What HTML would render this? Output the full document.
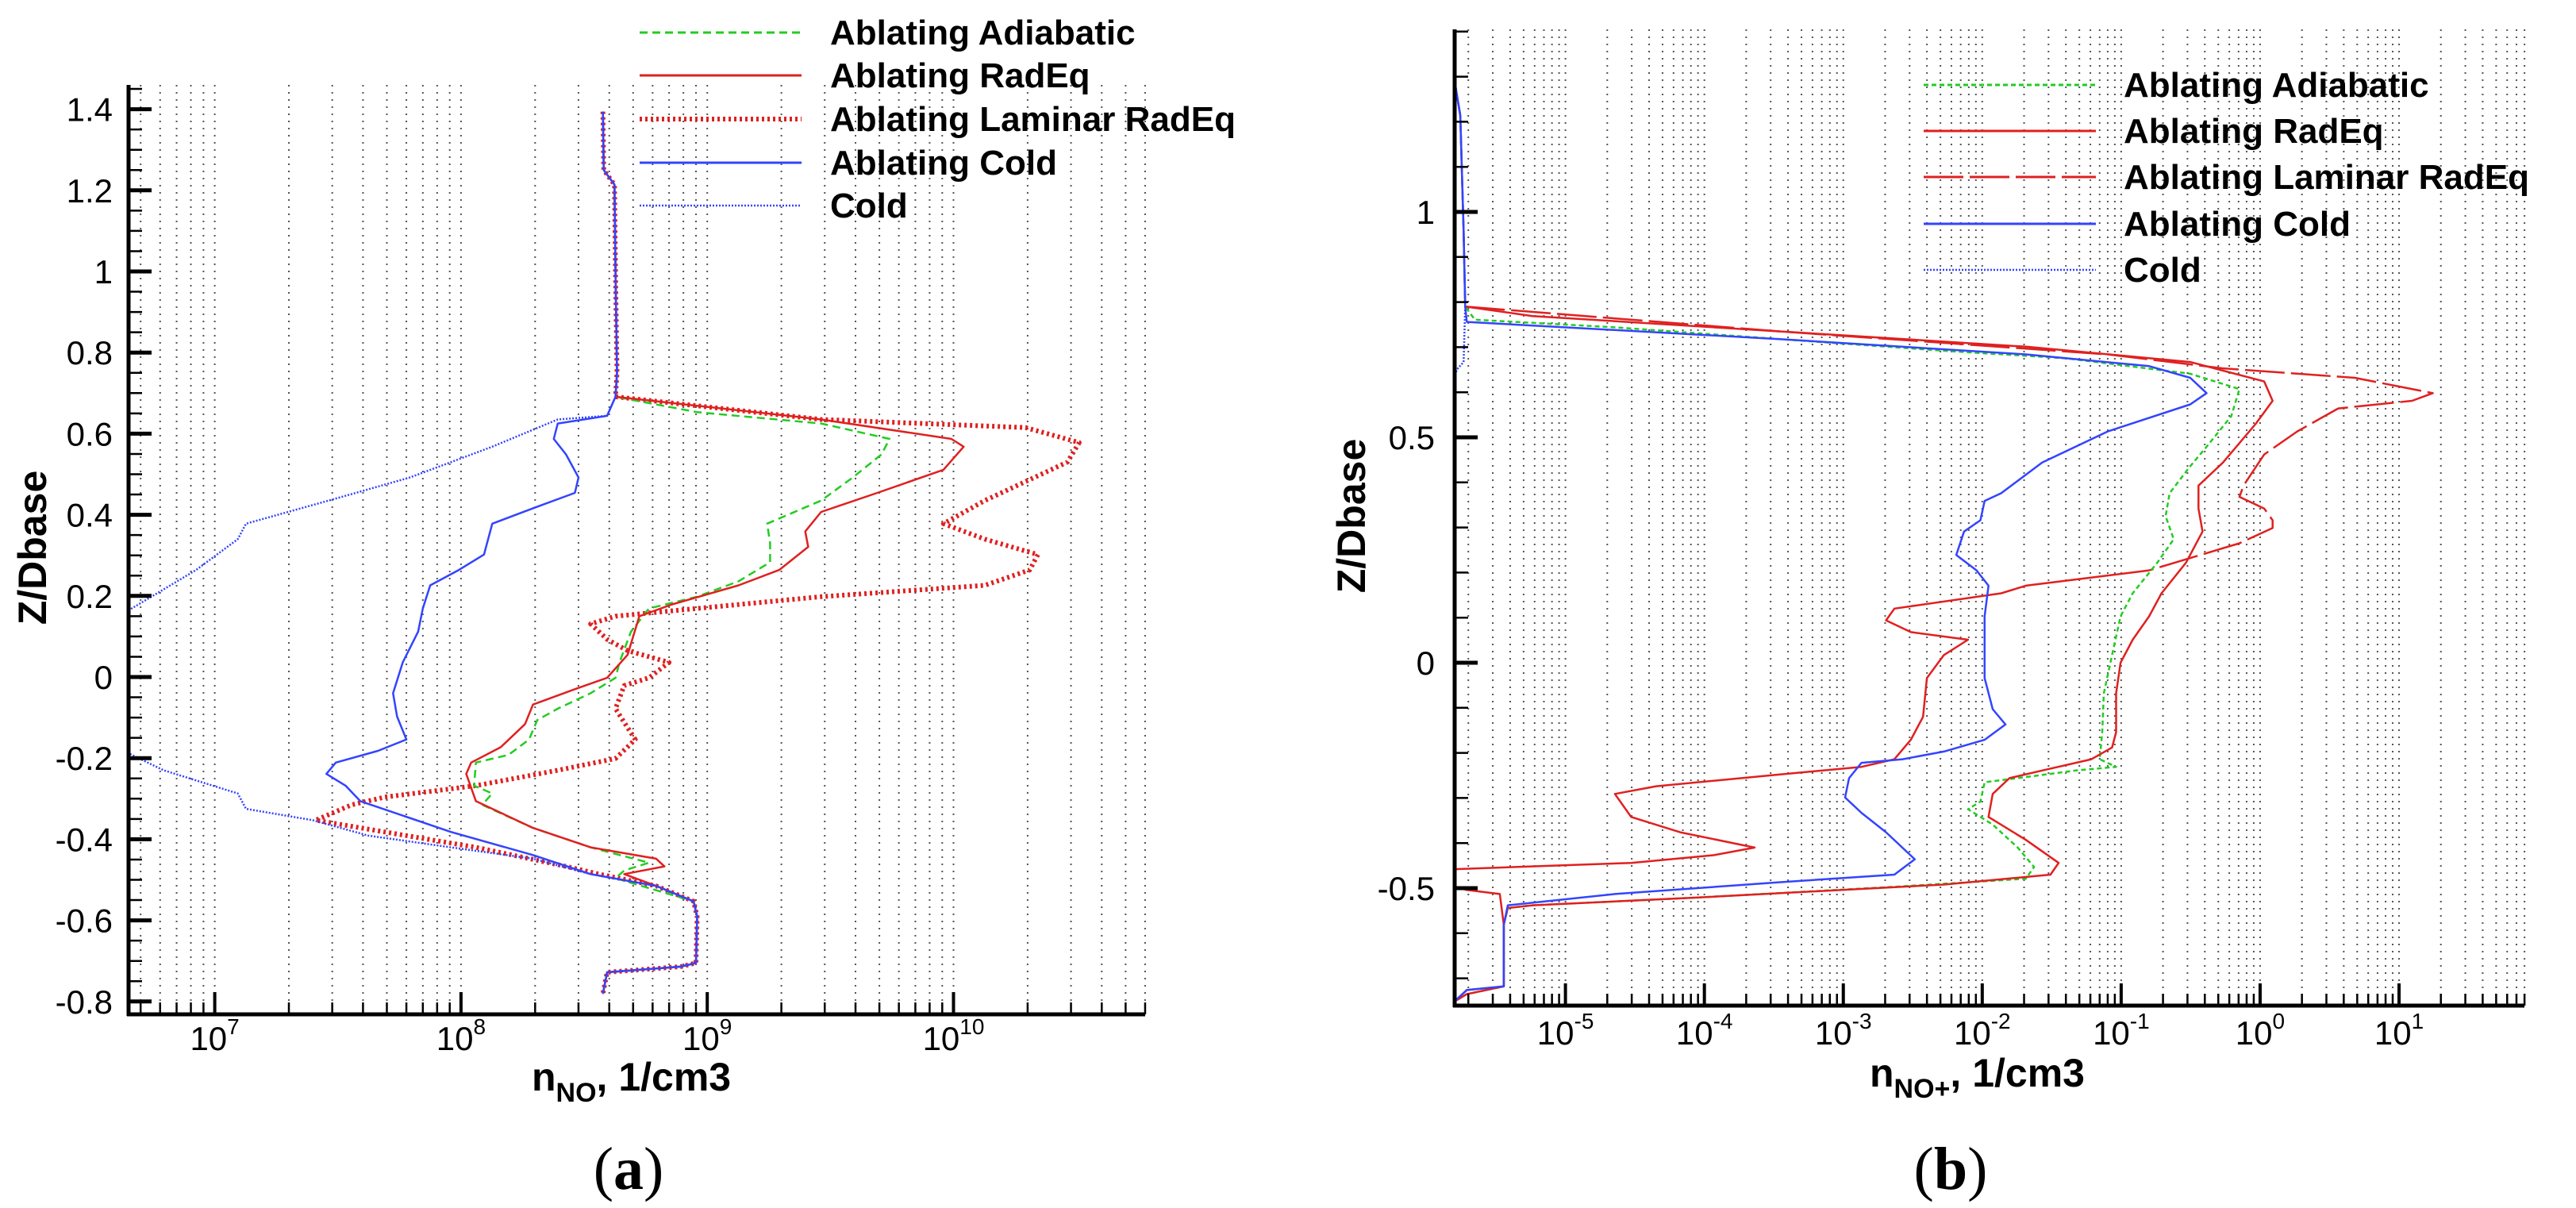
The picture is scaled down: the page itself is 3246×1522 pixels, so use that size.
<!DOCTYPE html>
<html><head><meta charset="utf-8">
<style>
html,body{margin:0;padding:0;background:#fff;}
svg{display:block;}
text{font-family:"Liberation Sans",Arial,sans-serif;}
.tk{font-size:42px;fill:#000;}
.lg{font-size:44px;font-weight:bold;fill:#000;}
.tt{font-size:50px;font-weight:bold;fill:#000;}
.cap{font-family:"Liberation Serif",serif;font-size:76px;fill:#000;}
</style></head>
<body>
<svg id="fig" width="3246" height="1522" viewBox="0 0 3246 1522" xmlns="http://www.w3.org/2000/svg">
<defs>
<clipPath id="clipL"><rect x="162" y="100" width="1282" height="1178"/></clipPath>
<clipPath id="clipR"><rect x="1833" y="30" width="1348" height="1237"/></clipPath>
</defs>
<g id="gridL"></g>
<g id="gridR"></g>
<g id="seriesL" clip-path="url(#clipL)"></g>
<g id="seriesR" clip-path="url(#clipR)"></g>
<g id="axesL"></g>
<g id="axesR"></g>

<g>
 <line x1="806" y1="41" x2="1010" y2="41" stroke="#22cc22" stroke-width="3" stroke-dasharray="10,6"/>
 <text class="lg" x="1046" y="56">Ablating Adiabatic</text>
 <line x1="806" y1="95" x2="1010" y2="95" stroke="#e02020" stroke-width="3"/>
 <text class="lg" x="1046" y="110">Ablating RadEq</text>
 <line x1="806" y1="150" x2="1010" y2="150" stroke="#e02020" stroke-width="6" stroke-dasharray="3,4"/>
 <text class="lg" x="1046" y="165">Ablating Laminar RadEq</text>
 <line x1="806" y1="205" x2="1010" y2="205" stroke="#3344ff" stroke-width="3"/>
 <text class="lg" x="1046" y="220">Ablating Cold</text>
 <line x1="806" y1="259" x2="1010" y2="259" stroke="#3344ff" stroke-width="2.5" stroke-dasharray="2,2"/>
 <text class="lg" x="1046" y="274">Cold</text>
</g>
<g>
 <line x1="2424" y1="107" x2="2641" y2="107" stroke="#22cc22" stroke-width="3" stroke-dasharray="6,4"/>
 <text class="lg" x="2676" y="122">Ablating Adiabatic</text>
 <line x1="2424" y1="165" x2="2641" y2="165" stroke="#e02020" stroke-width="3"/>
 <text class="lg" x="2676" y="180">Ablating RadEq</text>
 <line x1="2424" y1="223" x2="2641" y2="223" stroke="#e02020" stroke-width="3" stroke-dasharray="50,8"/>
 <text class="lg" x="2676" y="238">Ablating Laminar RadEq</text>
 <line x1="2424" y1="282" x2="2641" y2="282" stroke="#3344ff" stroke-width="3"/>
 <text class="lg" x="2676" y="297">Ablating Cold</text>
 <line x1="2424" y1="340" x2="2641" y2="340" stroke="#3344ff" stroke-width="2.5" stroke-dasharray="2,2"/>
 <text class="lg" x="2676" y="355">Cold</text>
</g>

<text class="tt" transform="translate(58,690) rotate(-90)" text-anchor="middle">Z/Dbase</text>
<text class="tt" transform="translate(1720,650) rotate(-90)" text-anchor="middle">Z/Dbase</text>
<text class="tt" x="670" y="1374">n<tspan font-size="34" dy="14">NO</tspan><tspan dy="-14">, 1/cm3</tspan></text>
<text class="tt" x="2356" y="1369">n<tspan font-size="34" dy="14">NO+</tspan><tspan dy="-14">, 1/cm3</tspan></text>
<text class="cap" x="792" y="1498" text-anchor="middle">(<tspan font-weight="bold">a</tspan>)</text>
<text class="cap" x="2458" y="1498" text-anchor="middle">(<tspan font-weight="bold">b</tspan>)</text>
</svg>
<script>
// ---- Panel (a) data: [n_NO (1/cm3), Z/Dbase]
const aTop = [[3.77e8,1.394],[3.8e8,1.25],[4.2e8,1.214],[4.24e8,1.0],[4.3e8,0.75],[4.24e8,0.691]];
const aBottom = [[6.2e8,-0.515],[8.8e8,-0.553],[9.1e8,-0.591],[9.0e8,-0.705],[7.8e8,-0.714],[3.92e8,-0.728],[3.77e8,-0.781]];
const aAdiabatic = [[4.24e8,0.691],[9.1e8,0.653],[2.9e9,0.625],[5.5e9,0.587],[5.1e9,0.549],[3.9e9,0.492],[2.9e9,0.435],[1.75e9,0.378],[1.8e9,0.331],[1.8e9,0.283],[1.34e9,0.236],[9.1e8,0.198],[5.8e8,0.169],[4.9e8,0.112],[4.4e8,0.036],[4.24e8,-0.002],[3.36e8,-0.040],[2.47e8,-0.078],[2.04e8,-0.106],[1.89e8,-0.154],[1.56e8,-0.192],[1.15e8,-0.211],[1.13e8,-0.268],[1.34e8,-0.287],[1.22e8,-0.315],[1.96e8,-0.372],[3.36e8,-0.420],[5.8e8,-0.458],[4.6e8,-0.477],[4.24e8,-0.496]];
const aRadEq = [[4.24e8,0.691],[2.9e9,0.635],[9.8e9,0.587],[1.1e10,0.568],[9.1e9,0.511],[4.9e9,0.454],[2.9e9,0.407],[2.5e9,0.359],[2.57e9,0.321],[1.96e9,0.264],[1.34e9,0.226],[7.2e8,0.179],[5.3e8,0.150],[4.75e8,0.055],[3.92e8,-0.002],[2.9e8,-0.030],[1.96e8,-0.068],[1.82e8,-0.116],[1.45e8,-0.173],[1.1e8,-0.211],[1.05e8,-0.239],[1.15e8,-0.306],[1.96e8,-0.372],[3.36e8,-0.420],[6.2e8,-0.448],[6.7e8,-0.467],[4.6e8,-0.486],[6.2e8,-0.515]];
const aLaminar = [[4.24e8,0.672],[2.9e9,0.635],[1.96e10,0.615],[3.24e10,0.578],[2.9e10,0.530],[1.34e10,0.435],[9.1e9,0.378],[1.34e10,0.340],[2.2e10,0.302],[2.04e10,0.264],[1.34e10,0.226],[2.9e9,0.198],[9.1e8,0.169],[4.24e8,0.150],[3.36e8,0.131],[3.92e8,0.093],[4.75e8,0.065],[7.0e8,0.036],[5.8e8,-0.002],[4.6e8,-0.021],[4.24e8,-0.078],[4.75e8,-0.125],[5.1e8,-0.154],[4.24e8,-0.201],[2.47e8,-0.230],[1.15e8,-0.268],[4.9e7,-0.296],[3.6e7,-0.315],[2.57e7,-0.353],[4.9e7,-0.382],[1.15e8,-0.420],[2.67e8,-0.467],[3.63e8,-0.486],[6.2e8,-0.515]];
const aAblCold = [[4.24e8,0.691],[3.92e8,0.644],[2.47e8,0.625],[2.38e8,0.587],[2.67e8,0.549],[3.0e8,0.492],[2.9e8,0.454],[1.96e8,0.416],[1.34e8,0.378],[1.24e8,0.302],[9.8e7,0.264],[7.5e7,0.226],[7.0e7,0.169],[6.7e7,0.112],[5.8e7,0.036],[5.3e7,-0.040],[5.5e7,-0.097],[6.0e7,-0.154],[4.6e7,-0.182],[3.1e7,-0.211],[2.84e7,-0.239],[3.4e7,-0.268],[3.9e7,-0.306],[9.1e7,-0.382],[1.96e8,-0.439],[3.36e8,-0.486],[6.2e8,-0.515]];
const aCold = [[4.24e8,0.691],[3.92e8,0.644],[2.47e8,0.635],[1.34e8,0.568],[6.2e7,0.492],[2.9e7,0.435],[1.34e7,0.378],[1.24e7,0.340],[8.4e6,0.264],[4.6e6,0.169],[3.5e6,0.1],[3.5e6,-0.15],[4.6e6,-0.192],[6.2e6,-0.230],[1.24e7,-0.287],[1.34e7,-0.325],[2.5e7,-0.353],[4.2e7,-0.391],[9.1e7,-0.420],[1.96e8,-0.448],[3.36e8,-0.486],[6.2e8,-0.515]];
const aYTicks = [1.4,1.2,1,0.8,0.6,0.4,0.2,0,-0.2,-0.4,-0.6,-0.8];
const aYTickLabels = ["1.4","1.2","1","0.8","0.6","0.4","0.2","0","-0.2","-0.4","-0.6","-0.8"];
const aXDecades = [7,8,9,10];

// ---- Panel (b) data: [n_NO+ (1/cm3), Z/Dbase]
const bTop = [[1.58e-6,1.402],[1.61e-6,1.282],[1.75e-6,1.214],[1.85e-6,0.957],[1.9e-6,0.790]];
const bBottom = [[5.3e-3,-0.492],[8.8e-5,-0.521],[5.8e-6,-0.538],[3.85e-6,-0.544],[3.6e-6,-0.581],[3.6e-6,-0.718],[1.95e-6,-0.735],[1.58e-6,-0.752]];
const bAdiabatic = [[1.9e-6,0.790],[2.23e-6,0.761],[2.27e-5,0.744],[3.45e-4,0.718],[5.3e-3,0.692],[4.1e-2,0.675],[0.314,0.641],[0.71,0.607],[0.62,0.547],[0.412,0.479],[0.314,0.436],[0.223,0.376],[0.209,0.325],[0.239,0.274],[0.182,0.222],[0.121,0.154],[9.9e-2,0.103],[8.6e-2,0.017],[7.5e-2,-0.068],[7.3e-2,-0.154],[7.0e-2,-0.214],[9.2e-2,-0.231],[4.7e-2,-0.239],[1.8e-2,-0.256],[1.04e-2,-0.265],[9.7e-3,-0.308],[7.9e-3,-0.325],[1.19e-2,-0.359],[1.8e-2,-0.410],[2.36e-2,-0.453],[2.06e-2,-0.479],[2.67e-3,-0.496]];
const bRadEq = [[1.9e-6,0.790],[5.8e-6,0.769],[3.45e-4,0.735],[2.06e-2,0.701],[0.314,0.667],[1.07,0.624],[1.23,0.581],[0.93,0.530],[0.54,0.444],[0.36,0.393],[0.36,0.342],[0.385,0.291],[0.293,0.222],[0.195,0.154],[0.159,0.103],[0.121,0.051],[9.9e-2,0],[9.2e-2,-0.068],[9.2e-2,-0.154],[8.6e-2,-0.188],[6.1e-2,-0.214],[2.7e-2,-0.239],[1.57e-2,-0.256],[1.19e-2,-0.291],[1.11e-2,-0.342],[2.06e-2,-0.393],[3.55e-2,-0.444],[3.1e-2,-0.470],[5.3e-3,-0.492]];
const bLaminar = [[1.9e-6,0.790],[3.45e-4,0.735],[8.0e-2,0.684],[0.54,0.653],[4.8,0.632],[17.5,0.598],[12.4,0.581],[3.65,0.564],[1.85,0.513],[1.07,0.462],[0.76,0.393],[0.71,0.368],[1.07,0.342],[1.23,0.316],[1.23,0.299],[0.71,0.265],[0.159,0.205],[2.06e-2,0.171],[1.37e-2,0.154],[2.33e-3,0.120],[2.03e-3,0.094],[3.06e-3,0.068],[7.9e-3,0.051],[5.3e-3,0.017],[4.0e-3,-0.034],[3.75e-3,-0.120],[3.06e-3,-0.171],[2.33e-3,-0.214],[1.35e-3,-0.231],[3.45e-4,-0.248],[4.5e-5,-0.274],[2.27e-5,-0.291],[2.97e-5,-0.342],[6.7e-5,-0.376],[2.3e-4,-0.410],[1.16e-4,-0.427],[2.97e-5,-0.444],[1.58e-6,-0.458],[1.58e-6,-0.496],[1.95e-6,-0.504],[3.37e-6,-0.513],[3.6e-6,-0.581],[3.6e-6,-0.718],[1.95e-6,-0.726],[1.58e-6,-0.752]];
const bAblCold = [[1.9e-6,0.790],[1.95e-6,0.756],[3.45e-4,0.718],[2.06e-2,0.684],[0.159,0.658],[0.314,0.632],[0.412,0.598],[0.314,0.573],[8.0e-2,0.513],[2.7e-2,0.444],[1.37e-2,0.376],[1.04e-2,0.359],[9.7e-3,0.316],[7.4e-3,0.291],[6.5e-3,0.239],[9.1e-3,0.205],[1.11e-2,0.171],[1.04e-2,0.103],[1.04e-2,-0.034],[1.19e-2,-0.103],[1.47e-2,-0.137],[1.04e-2,-0.171],[5.3e-3,-0.197],[2.67e-3,-0.214],[1.35e-3,-0.222],[1.1e-3,-0.256],[1.03e-3,-0.299],[1.35e-3,-0.333],[2.03e-3,-0.376],[3.27e-3,-0.436],[2.33e-3,-0.470],[3.45e-4,-0.487],[2.27e-5,-0.513],[3.85e-6,-0.538],[3.6e-6,-0.581],[3.6e-6,-0.718],[1.95e-6,-0.726],[1.58e-6,-0.752]];
const bCold = [[1.9e-6,0.790],[1.85e-6,0.667],[1.65e-6,0.650],[1.58e-6,0.63],[1.58e-6,-0.752]];
const bYTicks = [1,0.5,0,-0.5];
const bYTickLabels = ["1","0.5","0","-0.5"];
const bXDecades = [-5,-4,-3,-2,-1,0,1];

const NS = "http://www.w3.org/2000/svg";
function mk(tag, attrs, parent){const e=document.createElementNS(NS,tag);for(const k in attrs)e.setAttribute(k,attrs[k]);parent.appendChild(e);return e;}

const panels = {
 a:{xL:162,xR:1443,yT:107,yB:1278,
    X:v=>270.6+(Math.log10(v)-7)*310.3, Y:z=>853-z*511,
    logMin:Math.log10(4.6e6), logMax:10.8, zMin:-0.85, zMax:1.46, minorZ:0.05,
    grid:'gridL', axes:'axesL', series:'seriesL', yLabX:142, xLabY:1323},
 b:{xL:1833,xR:3181,yT:37,yB:1267,
    X:v=>1972.6+(Math.log10(v)+5)*175.07, Y:z=>835-z*568,
    logMin:-5.8, logMax:1.91, zMin:-0.76, zMax:1.41, minorZ:0.1,
    grid:'gridR', axes:'axesR', series:'seriesR', yLabX:1808, xLabY:1316}
};

function drawAxes(p, yTicks, yLabels, decades){
 const g=document.getElementById(p.grid), ax=document.getElementById(p.axes);
 for(let d=Math.floor(p.logMin); d<=Math.ceil(p.logMax); d++){
  for(let m=1;m<=9;m++){
   const lv=d+Math.log10(m);
   if(lv<p.logMin||lv>p.logMax) continue;
   const x=p.X(Math.pow(10,lv));
   const gl=mk('line',{x1:x,y1:p.yT,x2:x,y2:p.yB,stroke:'#555','stroke-width':2,'stroke-dasharray':'2,7'},g);
   
   
   const len=(m===1)?28:15;
   const t=mk('line',{x1:x,y1:p.yB,x2:x,y2:p.yB-len,stroke:'#000','stroke-width':m===1?4:2.5},ax);
   
   
  }
 }
 decades.forEach(d=>{
  const x=p.X(Math.pow(10,d));
  const t=mk('text',{x:x,y:p.xLabY,'text-anchor':'middle',class:'tk'},ax);
  
  
  t.textContent='10';
  const s=mk('tspan',{dy:-20,'font-size':28},t);
  s.textContent=String(d);
 });
 for(let z=Math.ceil(p.zMin/p.minorZ)*p.minorZ; z<=p.zMax; z+=p.minorZ){
  const y=p.Y(z); if(y<p.yT||y>p.yB) continue;
  const t=mk('line',{x1:p.xL,y1:y,x2:p.xL+17,y2:y,stroke:'#000','stroke-width':2.5},ax);
  
  
 }
 yTicks.forEach((z,i)=>{
  const y=p.Y(z);
  const t=mk('line',{x1:p.xL,y1:y,x2:p.xL+29,y2:y,stroke:'#000','stroke-width':5},ax);
  
  
  const l=mk('text',{x:p.yLabX,y:y+15,'text-anchor':'end',class:'tk'},ax);
  
  
  l.textContent=yLabels[i];
 });
 const ya=mk('line',{x1:p.xL,y1:p.yT,x2:p.xL,y2:p.yB+2,stroke:'#000','stroke-width':5},ax);
 
 
 const xa=mk('line',{x1:p.xL-2,y1:p.yB,x2:p.xR,y2:p.yB,stroke:'#000','stroke-width':5},ax);
 
 
}

function drawSeries(p, pts, style, name){
 const d=pts.map((q,i)=>(i?'L':'M')+p.X(q[0]).toFixed(1)+','+p.Y(q[1]).toFixed(1)).join(' ');
 const path=mk('path',Object.assign({d:d,fill:'none','stroke-linejoin':'round'},style),document.getElementById(p.series));
 
 
}

drawAxes(panels.a, aYTicks, aYTickLabels, aXDecades);
drawAxes(panels.b, bYTicks, bYTickLabels, bXDecades);

const green={stroke:'#22cc22','stroke-width':2.5,'stroke-dasharray':'10,6'};
const red={stroke:'#e02020','stroke-width':2.5};
const blue={stroke:'#3344ff','stroke-width':2.5};
const blueDot={stroke:'#3344ff','stroke-width':2.5,'stroke-dasharray':'2,2'};

// panel a: laminar underneath, cold on top
drawSeries(panels.a, aTop.concat(aLaminar.slice(1), aBottom.slice(1)), {stroke:'#e02020','stroke-width':6,'stroke-dasharray':'3,4'}, 'series-a-laminar-radeq');
drawSeries(panels.a, aTop.concat(aAdiabatic.slice(1), aBottom.slice(1)), green, 'series-a-adiabatic');
drawSeries(panels.a, aTop.concat(aRadEq.slice(1), aBottom.slice(1)), red, 'series-a-radeq');
drawSeries(panels.a, aTop.concat(aAblCold.slice(1), aBottom.slice(1)), blue, 'series-a-ablating-cold');
drawSeries(panels.a, aTop.concat(aCold.slice(1), aBottom.slice(1)), blueDot, 'series-a-cold');

// panel b: laminar dashed in its upper (high-density) part, dense dashes appear solid below
const bLamUpper = bLaminar.filter(q=>q[1]>=0.2);
const bLamLower = bLaminar.filter(q=>q[1]<=0.21);
drawSeries(panels.b, bLamUpper, {stroke:'#e02020','stroke-width':2.5,'stroke-dasharray':'50,8'}, 'series-b-laminar-radeq-upper');
drawSeries(panels.b, [bLamUpper[bLamUpper.length-1]].concat(bLamLower), red, 'series-b-laminar-radeq-lower');
drawSeries(panels.b, bTop.concat(bAdiabatic.slice(1), bBottom.slice(1)), {stroke:'#22cc22','stroke-width':2.5,'stroke-dasharray':'6,4'}, 'series-b-adiabatic');
drawSeries(panels.b, bTop.concat(bRadEq.slice(1), bBottom.slice(1)), red, 'series-b-radeq');
drawSeries(panels.b, bTop.concat(bAblCold.slice(1)), blue, 'series-b-ablating-cold');
drawSeries(panels.b, bTop.concat(bCold.slice(1)), blueDot, 'series-b-cold');
</script>
</body></html>
